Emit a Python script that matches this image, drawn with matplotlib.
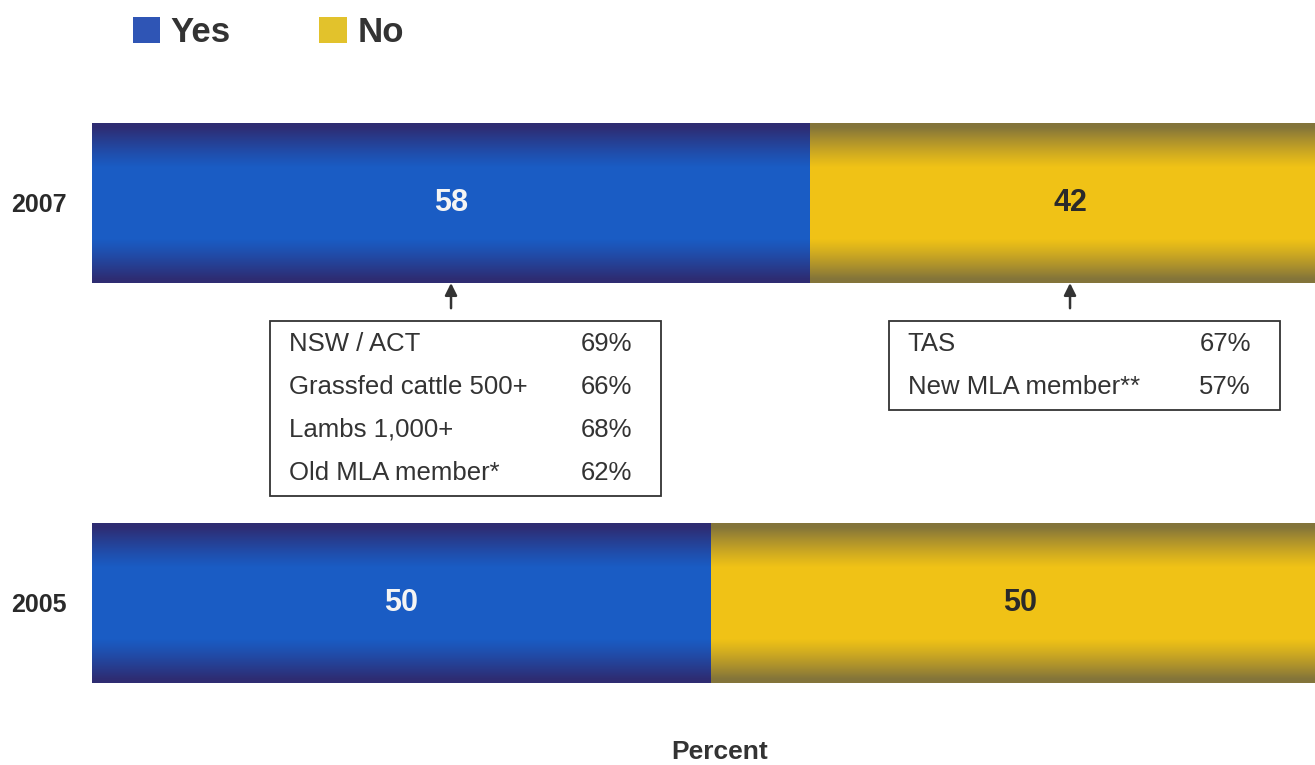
import numpy as np
import matplotlib
matplotlib.use("Agg")
import matplotlib.pyplot as plt
from matplotlib.patches import Rectangle
from matplotlib.colors import to_rgb

plt.rcParams['font.family'] = ['Liberation Sans', 'DejaVu Sans']

# data
years = ['2005', '2007']
yes = [50, 58]
no = [50, 42]

# sub-group call-outs for 2007
yes_notes = ['NSW / ACT', 'Grassfed cattle 500+', 'Lambs 1,000+', 'Old MLA member*']
yes_notes_pct = [69, 66, 68, 62]
no_notes = ['TAS', 'New MLA member**']
no_notes_pct = [67, 57]

blue_edge, blue_mid = '#2e2c72', '#1a5cc4'
gold_edge, gold_mid = '#83743a', '#f0c216'

fig = plt.figure(figsize=(13.15, 7.65), dpi=100)
# axis runs a bit past the right edge of the picture (100% is cropped)
ax = fig.add_axes([92 / 1315, 42 / 765, 1238 / 1315, 640 / 765])

ypos = np.arange(len(years))
b_yes = ax.barh(ypos, yes, height=0.4, color='#2f55b5', label='Yes', zorder=2)
b_no = ax.barh(ypos, no, left=yes, height=0.4, color='#e2c22c', label='No', zorder=2)


def shade(bar, c_edge, c_mid):
    # vertical gradient: dark edges, bright middle
    x0, y0 = bar.get_x(), bar.get_y()
    w, h = bar.get_width(), bar.get_height()
    t = np.linspace(0, 1, 160)
    prof = np.clip(np.sin(np.pi * t) * 1.45 - 0.1, 0, 1)
    e, m = np.array(to_rgb(c_edge)), np.array(to_rgb(c_mid))
    cols = e[None, :] * (1 - prof[:, None]) + m[None, :] * prof[:, None]
    img = np.repeat(cols[:, None, :], 4, axis=1)
    im = ax.imshow(img, extent=[x0, x0 + w, y0, y0 + h], interpolation='nearest',
                   aspect='auto', origin='lower', zorder=2.5)
    im.set_clip_path(bar)


for bar in b_yes:
    shade(bar, blue_edge, blue_mid)
for bar in b_no:
    shade(bar, gold_edge, gold_mid)

for i in range(len(years)):
    ax.text(yes[i] / 2, ypos[i], str(yes[i]), ha='center', va='center',
            color='#f4f4f4', fontsize=22, fontweight='bold', zorder=4)
    ax.text(yes[i] + no[i] / 2, ypos[i], str(no[i]), ha='center', va='center',
            color='#2a2a2a', fontsize=22, fontweight='bold', zorder=4)


def callout(cx, labels, pcts):
    top = 0.705
    row = 0.1075
    bottom = top - row * len(labels) - 0.008
    left, right = cx - 14.6, cx + 17
    ax.add_patch(Rectangle((left, bottom), right - left, top - bottom,
                           fill=False, edgecolor='#333333', lw=1.3, zorder=3))
    ax.annotate('', xy=(cx, 0.8), xytext=(cx, 0.737),
                arrowprops=dict(arrowstyle='-|>', color='#333333', lw=1.8,
                                mutation_scale=18, shrinkA=0, shrinkB=0))
    for k, (lab, p) in enumerate(zip(labels, pcts)):
        yy = top - 0.057 - k * row
        ax.text(left + 1.5, yy, lab, ha='left', va='center', fontsize=18.5, color='#333333')
        ax.text(right - 2.4, yy, f'{p}%', ha='right', va='center', fontsize=18.5, color='#333333')


callout(yes[1] / 2, yes_notes, yes_notes_pct)
callout(yes[1] + no[1] / 2, no_notes, no_notes_pct)

ax.set_xlim(0, 100)
ax.set_ylim(-0.3, 1.3)
ax.set_yticks(ypos)
ax.set_yticklabels(years, fontsize=18, fontweight='bold', color='#2a2a2a')
ax.tick_params(axis='y', length=0, pad=18)
ax.set_xticks([])
for s in ax.spines.values():
    s.set_visible(False)

fig.text(720 / 1315, 1 - 752 / 765, 'Percent', ha='center', va='center',
         fontsize=19, fontweight='bold', color='#333333')

leg = fig.legend(handles=[b_yes, b_no], loc='upper left', bbox_to_anchor=(0.085, 1.006),
                 ncol=2, frameon=False, fontsize=25, handlelength=0.8, handleheight=0.8,
                 handletextpad=0.3, columnspacing=2.55, borderpad=0.1)
for t in leg.get_texts():
    t.set_fontweight('bold')
    t.set_color('#333333')

fig.savefig('out.png', dpi=100)
